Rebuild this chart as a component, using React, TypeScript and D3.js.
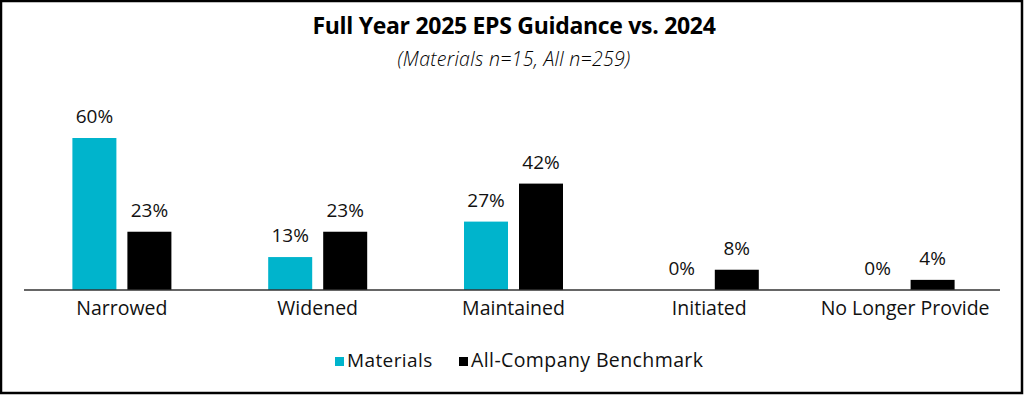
import React from "react";
import * as d3 from "d3";

const categories = ["Narrowed", "Widened", "Maintained", "Initiated", "No Longer Provide"];
const materials = [60, 13, 27, 0, 0];
const benchmark = [23, 23, 42, 8, 4];
const seriesNames = ["Materials", "All-Company Benchmark"];
const colors = ["#00B4CC", "#000000"];
const title = "Full Year 2025 EPS Guidance vs. 2024";
const subtitle = "(Materials n=15, All n=259)";

const W = 1024;
const H = 395;
const FONT = "'Open Sans', sans-serif";

export default function App() {
  const x0 = d3.scaleBand<string>().domain(categories).range([24, 1003]).paddingInner(0).paddingOuter(0);
  const y = d3.scaleLinear().domain([0, 60]).range([290, 138]);
  const barW = 44;
  const gap = 11;
  const series = [materials, benchmark];

  return (
    <svg width={W} height={H} style={{ position: "absolute", left: 0, top: 0, background: "#fff" }} fontFamily={FONT}>
      <rect x={1} y={1} width={W - 3} height={H - 3} fill="#fff" stroke="#000" strokeWidth={2.5} />
      <text x={W / 2 + 2} y={34} textAnchor="middle" fontSize={23} fontWeight={700} fill="#000" letterSpacing={-0.3}>{title}</text>
      <text x={W / 2 + 2} y={66} textAnchor="middle" fontSize={19.5} fontStyle="italic" fontWeight={300} fill="#000" letterSpacing={0.3}>{subtitle}</text>
      {categories.map((c, i) => {
        const cx = (x0(c) as number) + x0.bandwidth() / 2;
        return (
          <g key={c}>
            {series.map((s, k) => {
              const bx = k === 0 ? cx - gap / 2 - barW : cx + gap / 2;
              const v = s[i];
              return (
                <g key={k}>
                  {v > 0 && (
                    <rect x={bx} y={y(v)} width={barW} height={y(0) - y(v)} fill={colors[k]} />
                  )}
                  <text x={bx + barW / 2} y={y(v) - 15} textAnchor="middle" fontSize={19} fill="#111">{`${v}%`}</text>
                </g>
              );
            })}
            <text x={cx} y={315} textAnchor="middle" fontSize={19.5} fill="#111">{c}</text>
          </g>
        );
      })}
      <line x1={24} x2={1000} y1={y(0)} y2={y(0)} stroke="#333" strokeWidth={1.5} />
      <g transform="translate(0,367)">
        <rect x={335} y={-10} width={9} height={9} fill={colors[0]} />
        <text x={347} y={0} fontSize={19} fill="#111" letterSpacing={0.4}>{seriesNames[0]}</text>
        <rect x={459} y={-10} width={9} height={9} fill={colors[1]} />
        <text x={471} y={0} fontSize={19.5} fill="#111" letterSpacing={0.4}>{seriesNames[1]}</text>
      </g>
    </svg>
  );
}
